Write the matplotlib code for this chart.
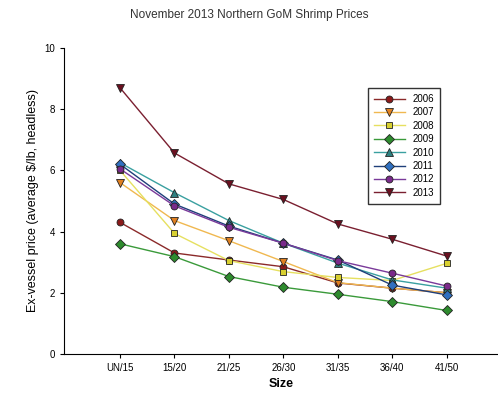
import matplotlib
matplotlib.use("Agg")
import matplotlib.pyplot as plt

plt.rcParams['font.family'] = ['Liberation Sans', 'DejaVu Sans']

sizes = ["UN/15", "15/20", "21/25", "26/30", "31/35", "36/40", "41/50"]
years = ["2006", "2007", "2008", "2009", "2010", "2011", "2012", "2013"]

p2006 = [4.3, 3.3, 3.07, 2.85, 2.32, 2.15, 2.0]
p2007 = [5.6, 4.36, 3.7, 3.02, 2.33, 2.15, 2.0]
p2008 = [6.0, 3.94, 3.05, 2.69, 2.5, 2.4, 2.96]
p2009 = [3.6, 3.18, 2.53, 2.18, 1.95, 1.71, 1.42]
p2010 = [6.25, 5.27, 4.36, 3.62, 2.97, 2.42, 2.15]
p2011 = [6.2, 4.9, 4.18, 3.62, 3.07, 2.25, 1.93]
p2012 = [6.05, 4.84, 4.14, 3.62, 3.05, 2.64, 2.22]
p2013 = [8.7, 6.57, 5.56, 5.05, 4.25, 3.75, 3.2]

series = [p2006, p2007, p2008, p2009, p2010, p2011, p2012, p2013]
line_colors = ["#8b2a2a", "#f0b850", "#e6e060", "#3a9a3a", "#3aa0a0", "#1f3f7a", "#7a3a9a", "#7a1f30"]
face_colors = ["#8b1a1a", "#e08020", "#d8d030", "#2e8b2e", "#2e8080", "#3070c0", "#7a2a8a", "#6a1020"]
markers = ["o", "v", "s", "D", "^", "D", "o", "v"]
msizes = [5, 6, 5, 5, 6, 5, 5, 6]

fig = plt.figure(figsize=(4.98, 4.04), dpi=100)
ax = fig.add_axes([0.1285, 0.124, 0.871, 0.757])

x = list(range(len(sizes)))
for yr, vals, lc, fc, mk, ms in zip(years, series, line_colors, face_colors, markers, msizes):
    ax.plot(x, vals, color=lc, lw=1.0, marker=mk, ms=ms, mfc=fc, mec="#222222",
            mew=0.6, label=yr)

ax.set_xlim(-1.03, 6.94)
ax.set_ylim(0, 10)
ax.set_xticks(x)
ax.set_xticklabels(sizes, fontsize=7)
ax.set_yticks([0, 2, 4, 6, 8, 10])
ax.tick_params(axis='y', labelsize=7, length=3)
ax.tick_params(axis='x', length=3)
for s in ["top", "right"]:
    ax.spines[s].set_visible(False)

ax.set_xlabel("Size", fontsize=9, fontweight="bold")
ax.set_ylabel("Ex-vessel price (average $/lb, headless)", fontsize=9)
fig.text(0.5, 0.962, "November 2013 Northern GoM Shrimp Prices", ha="center",
         va="center", fontsize=8.5, color="#333333")

leg = ax.legend(loc="upper left", bbox_to_anchor=(0.689, 0.885), fontsize=7,
                frameon=True, fancybox=False, edgecolor="black",
                handlelength=3.2, labelspacing=0.35, borderpad=0.6)
leg.get_frame().set_linewidth(1.0)

fig.savefig("out.png", dpi=100)
